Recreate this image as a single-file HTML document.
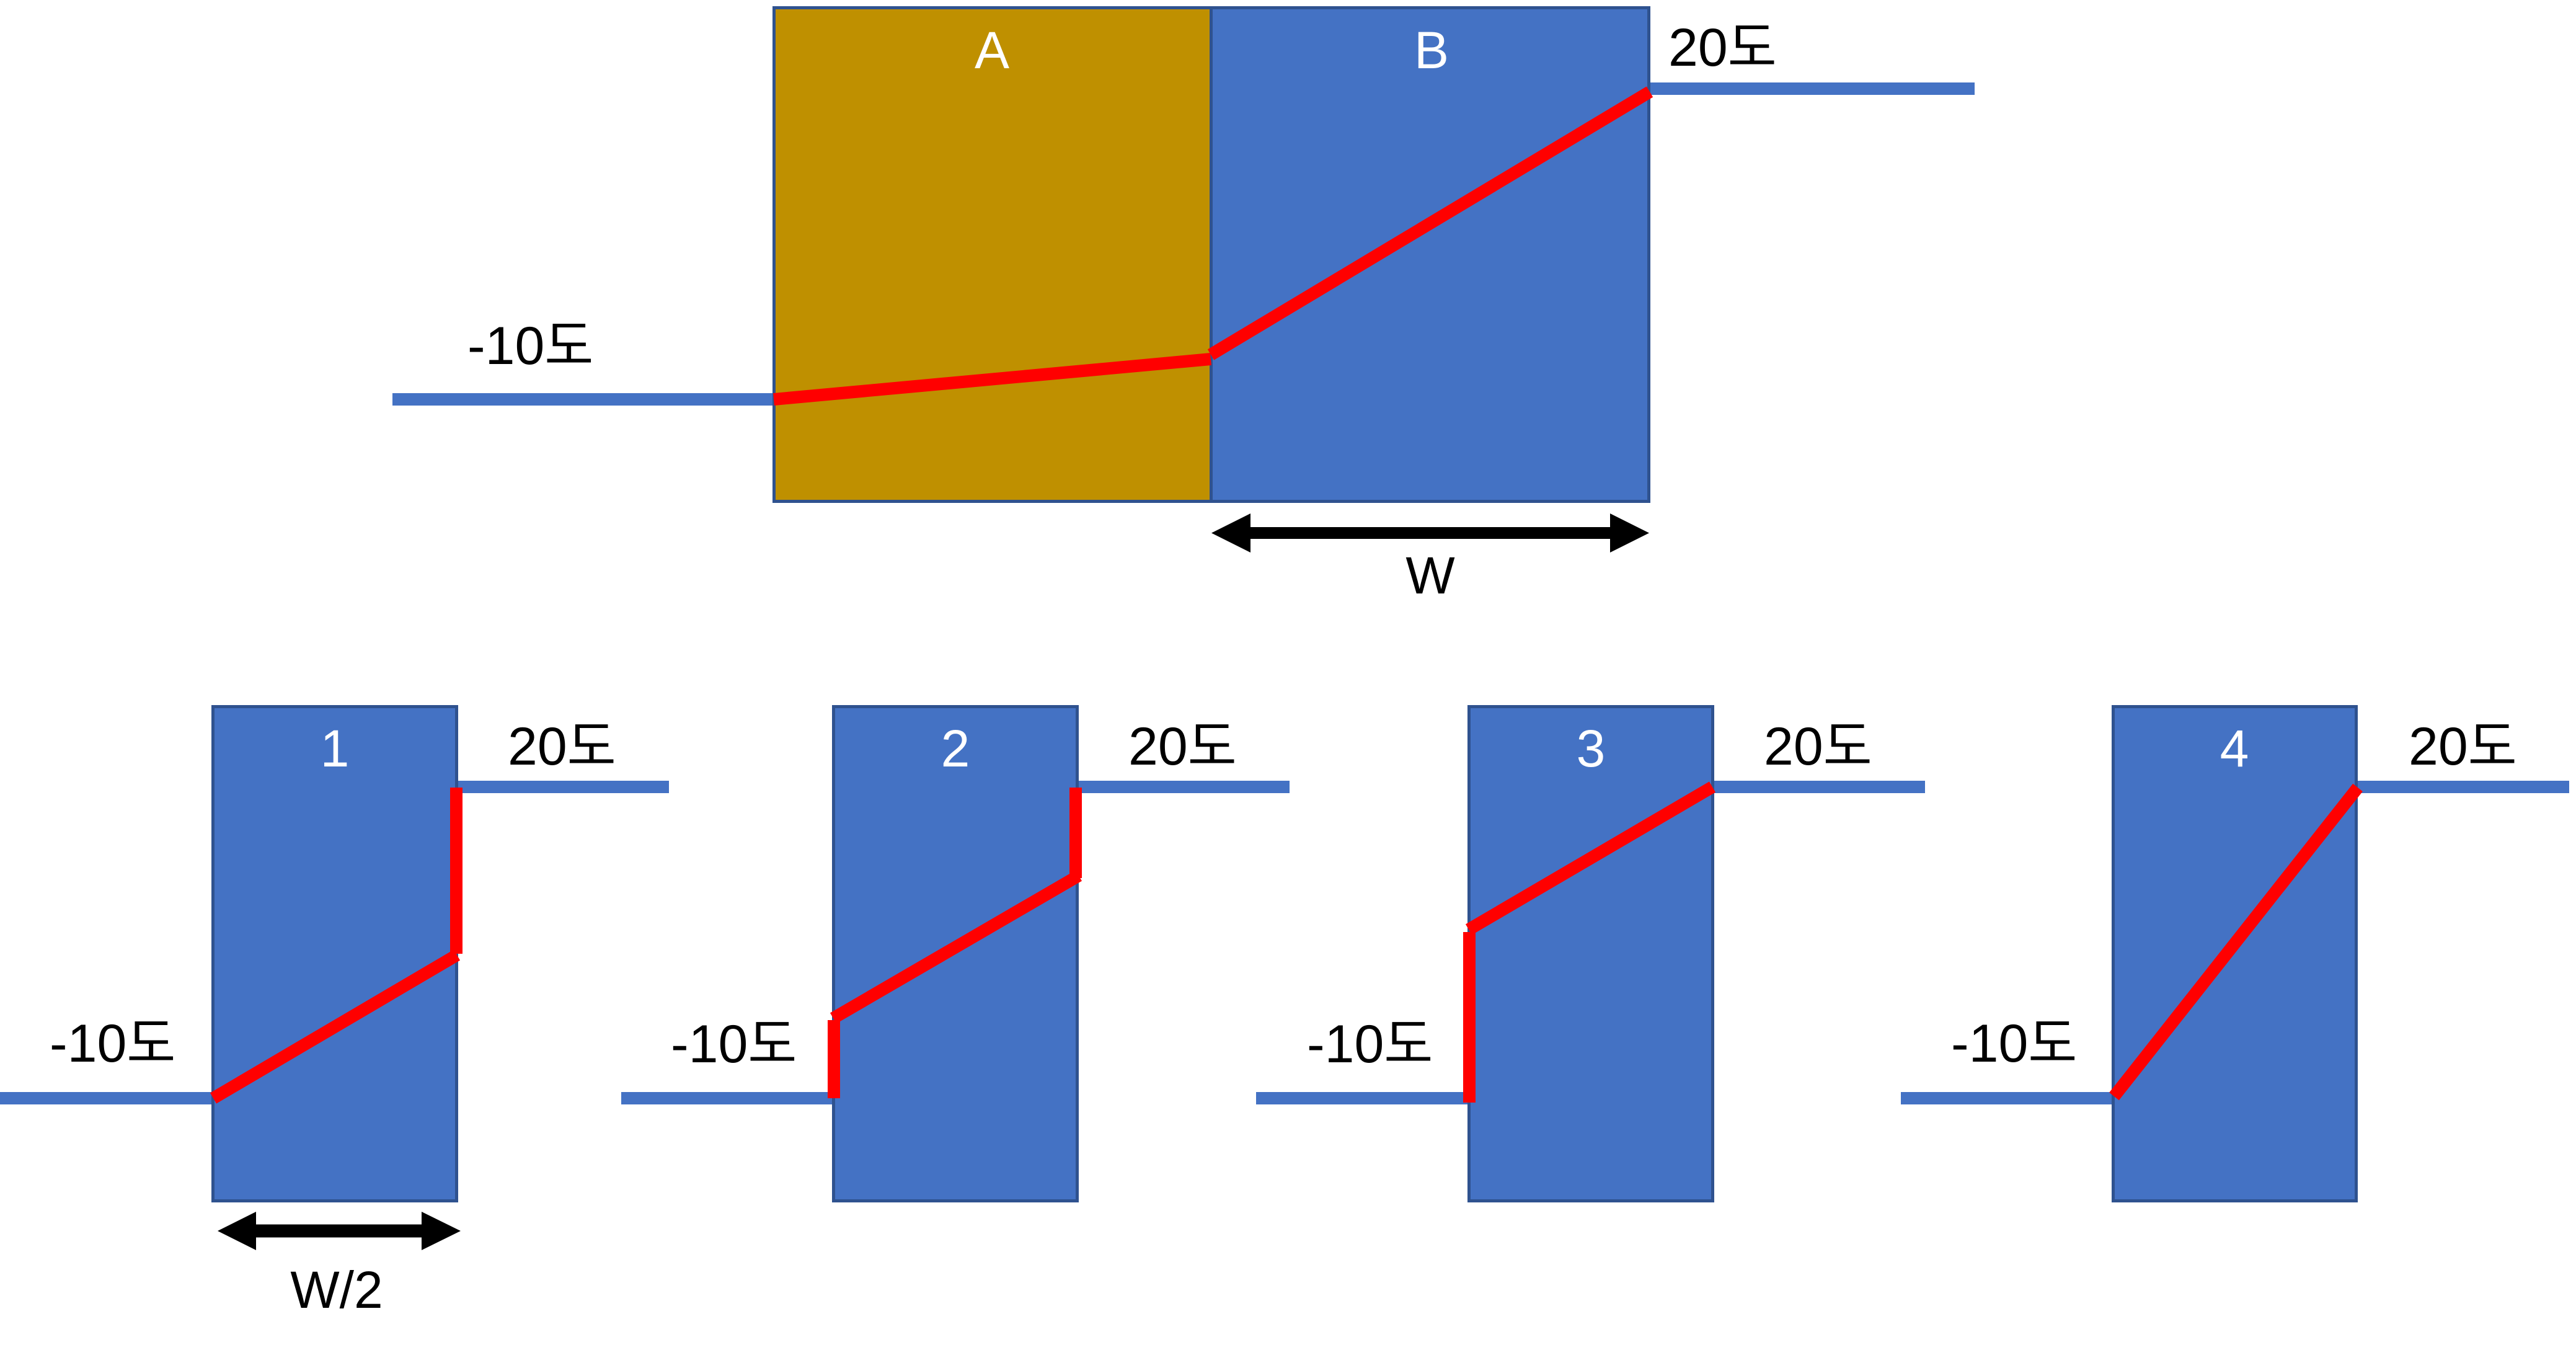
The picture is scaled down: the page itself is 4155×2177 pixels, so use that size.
<!DOCTYPE html>
<html>
<head>
<meta charset="utf-8">
<style>
  html, body { margin: 0; padding: 0; background: #ffffff; }
  body { width: 4155px; height: 2177px; overflow: hidden; }
  svg { display: block; }
  .lbl { font-family: "Liberation Sans", "Noto Sans CJK KR", sans-serif; font-size: 86px; fill: #000; }
  .wl { font-family: "Liberation Sans", "Noto Sans CJK KR", sans-serif; font-size: 84px; fill: #fff; }
  .bl { font-family: "Liberation Sans", "Noto Sans CJK KR", sans-serif; font-size: 84px; fill: #000; }
</style>
</head>
<body>
<svg width="4155" height="2177" viewBox="0 0 4155 2177" xmlns="http://www.w3.org/2000/svg">
  <rect x="0" y="0" width="4155" height="2177" fill="#ffffff"/>

  <!-- ===== TOP DIAGRAM ===== -->
  <!-- side lines -->
  <rect x="633" y="634" width="615" height="20" fill="#4472C4"/>
  <rect x="2660" y="133" width="525" height="20" fill="#4472C4"/>

  <!-- A and B boxes -->
  <rect x="1248.5" y="12.5" width="705" height="796" fill="#BF9000" stroke="#2F528F" stroke-width="5"/>
  <rect x="1953.5" y="12.5" width="706" height="796" fill="#4472C4" stroke="#2F528F" stroke-width="5"/>

  <!-- red line -->
  <line x1="1248" y1="644" x2="1953" y2="579" stroke="#FF0000" stroke-width="20"/>
  <line x1="1953" y1="572" x2="2661" y2="148" stroke="#FF0000" stroke-width="20"/>

  <text class="wl" x="1600" y="110" text-anchor="middle">A</text>
  <text class="wl" x="2309" y="110" text-anchor="middle">B</text>
  <text class="lbl" x="754" y="587">-10도</text>
  <text class="lbl" x="2691" y="106">20도</text>

  <!-- W arrow -->
  <polygon points="1954,859.5 2017,828 2017,850 2597,850 2597,828 2660,859.5 2597,891 2597,869 2017,869 2017,891" fill="#000"/>
  <text class="bl" x="2307" y="957" text-anchor="middle">W</text>

  <!-- ===== BOTTOM DIAGRAMS ===== -->
  <!-- left lines (y center 1771) -->
  <rect x="0" y="1761" width="341" height="20" fill="#4472C4"/>
  <rect x="1002" y="1761" width="340" height="20" fill="#4472C4"/>
  <rect x="2026" y="1761" width="341" height="20" fill="#4472C4"/>
  <rect x="3066" y="1761" width="340" height="20" fill="#4472C4"/>
  <!-- right lines (y center 1269) -->
  <rect x="739" y="1259" width="340" height="20" fill="#4472C4"/>
  <rect x="1740" y="1259" width="340" height="20" fill="#4472C4"/>
  <rect x="2765" y="1259" width="340" height="20" fill="#4472C4"/>
  <rect x="3803" y="1259" width="341" height="20" fill="#4472C4"/>

  <!-- boxes -->
  <rect x="343.5" y="1139.5" width="393" height="797" fill="#4472C4" stroke="#2F528F" stroke-width="5"/>
  <rect x="1344.5" y="1139.5" width="393" height="797" fill="#4472C4" stroke="#2F528F" stroke-width="5"/>
  <rect x="2369.5" y="1139.5" width="393" height="797" fill="#4472C4" stroke="#2F528F" stroke-width="5"/>
  <rect x="3408.5" y="1139.5" width="392" height="797" fill="#4472C4" stroke="#2F528F" stroke-width="5"/>

  <!-- box numbers -->
  <text class="wl" x="540" y="1236" text-anchor="middle">1</text>
  <text class="wl" x="1541" y="1236" text-anchor="middle">2</text>
  <text class="wl" x="2566" y="1236" text-anchor="middle">3</text>
  <text class="wl" x="3604" y="1236" text-anchor="middle">4</text>

  <!-- red profiles -->
  <!-- 1 -->
  <line x1="344" y1="1771" x2="737" y2="1540" stroke="#FF0000" stroke-width="20"/>
  <line x1="736" y1="1538" x2="736" y2="1270" stroke="#FF0000" stroke-width="20"/>
  <!-- 2 -->
  <line x1="1345" y1="1771" x2="1345" y2="1645" stroke="#FF0000" stroke-width="20"/>
  <line x1="1344" y1="1642" x2="1740" y2="1412" stroke="#FF0000" stroke-width="20"/>
  <line x1="1735" y1="1416" x2="1735" y2="1270" stroke="#FF0000" stroke-width="20"/>
  <!-- 3 -->
  <line x1="2370" y1="1778" x2="2370" y2="1503" stroke="#FF0000" stroke-width="20"/>
  <line x1="2369" y1="1499" x2="2762" y2="1269" stroke="#FF0000" stroke-width="20"/>
  <!-- 4 -->
  <line x1="3410" y1="1768" x2="3803" y2="1270" stroke="#FF0000" stroke-width="20"/>

  <!-- temperature labels -->
  <text class="lbl" x="80" y="1712">-10도</text>
  <text class="lbl" x="1082" y="1713">-10도</text>
  <text class="lbl" x="2108" y="1713">-10도</text>
  <text class="lbl" x="3147" y="1712">-10도</text>

  <text class="lbl" x="819" y="1233">20도</text>
  <text class="lbl" x="1820" y="1233">20도</text>
  <text class="lbl" x="2845" y="1233">20도</text>
  <text class="lbl" x="3885" y="1233">20도</text>

  <!-- W/2 arrow -->
  <polygon points="351,1985 413,1954 413,1974.5 680,1974.5 680,1954 743,1985 680,2016 680,1995.5 413,1995.5 413,2016" fill="#000"/>
  <text class="bl" x="543" y="2109" text-anchor="middle">W/2</text>
</svg>
</body>
</html>
